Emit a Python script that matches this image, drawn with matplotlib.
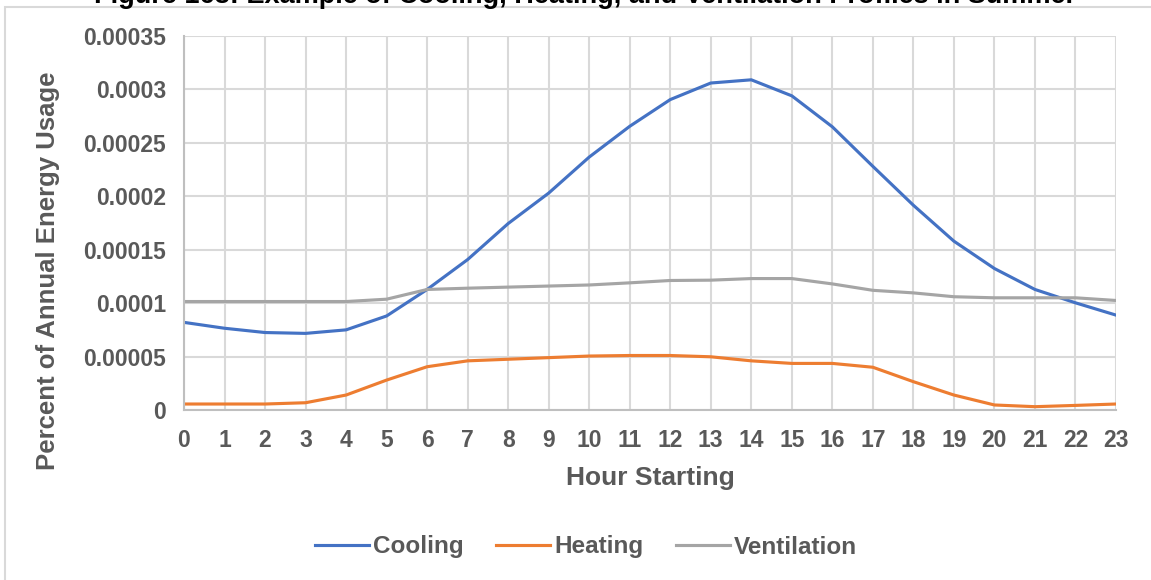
import matplotlib
matplotlib.use("Agg")
import matplotlib.pyplot as plt
from matplotlib.patches import Rectangle

plt.rcParams['font.family'] = ['Liberation Sans', 'DejaVu Sans']

hours = list(range(24))
cooling = [8.2e-5, 7.65e-5, 7.25e-5, 7.17e-5, 7.5e-5, 8.8e-5, 1.128e-4, 1.408e-4,
           1.745e-4, 2.03e-4, 2.367e-4, 2.655e-4, 2.905e-4, 3.06e-4, 3.09e-4, 2.94e-4,
           2.65e-4, 2.28e-4, 1.916e-4, 1.58e-4, 1.324e-4, 1.128e-4, 1.003e-4, 8.88e-5]
heating = [5.6e-6, 5.6e-6, 5.6e-6, 6.8e-6, 1.4e-5, 2.8e-5, 4.05e-5, 4.6e-5,
           4.75e-5, 4.9e-5, 5.05e-5, 5.1e-5, 5.1e-5, 4.98e-5, 4.6e-5, 4.36e-5,
           4.36e-5, 4.0e-5, 2.65e-5, 1.4e-5, 4.7e-6, 3.1e-6, 4.3e-6, 5.6e-6]
ventilation = [1.015e-4, 1.015e-4, 1.015e-4, 1.015e-4, 1.015e-4, 1.037e-4, 1.128e-4, 1.14e-4,
               1.15e-4, 1.16e-4, 1.17e-4, 1.19e-4, 1.212e-4, 1.215e-4, 1.23e-4, 1.23e-4,
               1.18e-4, 1.12e-4, 1.096e-4, 1.06e-4, 1.05e-4, 1.05e-4, 1.05e-4, 1.025e-4]
y_ticks = [0, 0.00005, 0.0001, 0.00015, 0.0002, 0.00025, 0.0003, 0.00035]
y_labels = ['0', '0.00005', '0.0001', '0.00015', '0.0002', '0.00025', '0.0003', '0.00035']

text_color = '#595959'
grid_color = '#d9d9d9'

fig = plt.figure(figsize=(11.51, 5.8), dpi=100)

# outer chart border (runs off the canvas on the right and bottom)
fig.patches.append(Rectangle((5 / 1151, -0.01), 1.1, 1 - 7 / 580 + 0.01,
                             transform=fig.transFigure, fill=False,
                             edgecolor='#d9d9d9', linewidth=1.5))

# caption above the chart, mostly cropped off in the source image
fig.text(0.508, 1 - 3 / 580,
         'Figure 168: Example of Cooling, Heating, and Ventilation Profiles in Summer',
         ha='center', va='baseline', fontsize=19.5, fontweight='bold', color='black')

ax = fig.add_axes([184 / 1151, 1 - 410 / 580, (1116 - 184) / 1151, (410 - 36) / 580])

ax.plot(hours, cooling, color='#4472C4', linewidth=2.25, label='Cooling')
ax.plot(hours, heating, color='#ED7D31', linewidth=2.25, label='Heating')
ax.plot(hours, ventilation, color='#A5A5A5', linewidth=2.25, label='Ventilation')

ax.set_xlim(0, 23)
ax.set_ylim(0, 0.00035)
ax.set_xticks(hours)
ax.set_xticklabels([str(h) for h in hours])
ax.set_yticks(y_ticks)
ax.set_yticklabels(y_labels)

ax.grid(True, color=grid_color, linewidth=1.5)
ax.set_axisbelow(True)
for side in ['top', 'right']:
    ax.spines[side].set_visible(False)
for side in ['left', 'bottom']:
    ax.spines[side].set_color('#bfbfbf')
    ax.spines[side].set_linewidth(1.5)

ax.tick_params(axis='both', length=0, labelsize=16.5, colors=text_color)
ax.tick_params(axis='x', pad=14)
ax.tick_params(axis='y', pad=13)
for lbl in ax.get_xticklabels() + ax.get_yticklabels():
    lbl.set_fontweight('bold')

ax.set_xlabel('Hour Starting', fontsize=19, fontweight='bold', color=text_color, va='center')
ax.xaxis.set_label_coords(0.5, -0.182)
ax.set_ylabel('Percent of Annual Energy Usage', fontsize=18.5, fontweight='bold',
              color=text_color, va='center')
ax.yaxis.set_label_coords(-0.146, 0.372)

leg = fig.legend(loc='center', bbox_to_anchor=(586 / 1151, 1 - 547 / 580), ncol=3,
                 frameon=False, fontsize=17.5, handlelength=2.2, columnspacing=1.36,
                 handletextpad=0.17)
for t in leg.get_texts():
    t.set_color(text_color)
    t.set_fontweight('bold')

fig.savefig('out.png', dpi=100, facecolor='white')
